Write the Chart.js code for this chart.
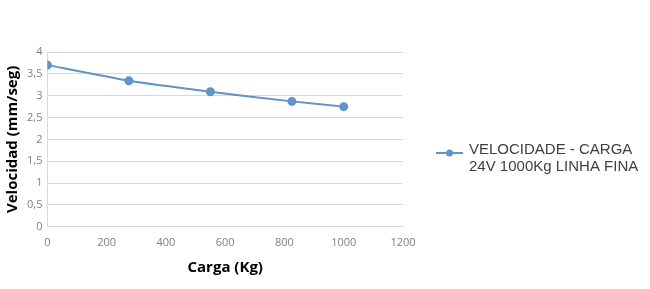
<!DOCTYPE html>
<html>
<head>
<meta charset="utf-8">
<script src="https://cdn.jsdelivr.net/npm/chart.js@4"></script>
<style>
  html, body { margin: 0; padding: 0; background: #ffffff; }
  #wrap { width: 650px; height: 289px; }
</style>
</head>
<body>
<div id="wrap"><canvas id="velocidadChart" width="650" height="289"></canvas></div>
<script>
// ================================================================
// Velocidad x Carga chart [START]
// ================================================================
const cargaKg = [0, 275, 550, 825, 1000];
const velocidad = [3.70, 3.34, 3.09, 2.87, 2.75];
const seriesLabel = ['VELOCIDADE - CARGA', '24V 1000Kg LINHA FINA'];
const xTitle = 'Carga (Kg)';
const yTitle = 'Velocidad (mm/seg)';

const lineColor = '#5f93c9';
const gridColor = '#d9d9d9';
const tickColor = '#7f7f7f';

// draws the legend on the right, two text lines next to a line+dot marker
const sideLegend = {
  id: 'sideLegend',
  afterDraw(chart) {
    const ctx = chart.ctx;
    const x0 = 436, y0 = 153;
    ctx.save();
    ctx.strokeStyle = lineColor;
    ctx.lineWidth = 2;
    ctx.beginPath();
    ctx.moveTo(x0, y0);
    ctx.lineTo(x0 + 27, y0);
    ctx.stroke();
    ctx.fillStyle = lineColor;
    ctx.beginPath();
    ctx.arc(x0 + 13.5, y0, 3.5, 0, Math.PI * 2);
    ctx.fill();
    ctx.fillStyle = '#404040';
    ctx.font = '15px "Liberation Sans", Arial, sans-serif';
    ctx.textBaseline = 'middle';
    seriesLabel.forEach((t, i) => ctx.fillText(t, x0 + 33, y0 - 3 + i * 17));
    ctx.restore();
  }
};

new Chart(document.getElementById('velocidadChart'), {
  type: 'line',
  data: {
    datasets: [{
      label: seriesLabel.join(' '),
      data: cargaKg.map((x, i) => ({ x: x, y: velocidad[i] })),
      borderColor: lineColor,
      backgroundColor: lineColor,
      borderWidth: 2,
      pointRadius: 3.5,
      pointHoverRadius: 3.5,
      tension: 0.15,
      fill: false
    }]
  },
  options: {
    responsive: false,
    animation: false,
    layout: { padding: { left: 0, right: 247, top: 52, bottom: 8 } },
    plugins: {
      legend: { display: false },
      tooltip: { enabled: false }
    },
    scales: {
      x: {
        type: 'linear',
        min: 0,
        max: 1200,
        ticks: {
          stepSize: 200,
          color: tickColor,
          font: { family: '"Open Sans", sans-serif', size: 11 },
          padding: 9,
          callback: v => String(v)
        },
        grid: { display: false, drawTicks: false },
        border: { color: gridColor },
        title: {
          display: true,
          text: xTitle,
          color: '#000',
          font: { family: '"Open Sans", sans-serif', size: 15, weight: 'bold' },
          padding: { top: 1 }
        }
      },
      y: {
        min: 0,
        max: 4,
        ticks: {
          stepSize: 0.5,
          color: tickColor,
          font: { family: '"Open Sans", sans-serif', size: 11 },
          padding: 5,
          callback: v => String(v).replace('.', ',')
        },
        grid: { color: gridColor, drawTicks: false },
        border: { color: gridColor },
        title: {
          display: true,
          text: yTitle,
          color: '#000',
          font: { family: '"Open Sans", sans-serif', size: 15, weight: 'bold' },
          padding: { bottom: 0 }
        }
      }
    }
  },
  plugins: [sideLegend]
});
// ================================================================
// Velocidad x Carga chart [END]
// ================================================================
</script>
</body>
</html>
